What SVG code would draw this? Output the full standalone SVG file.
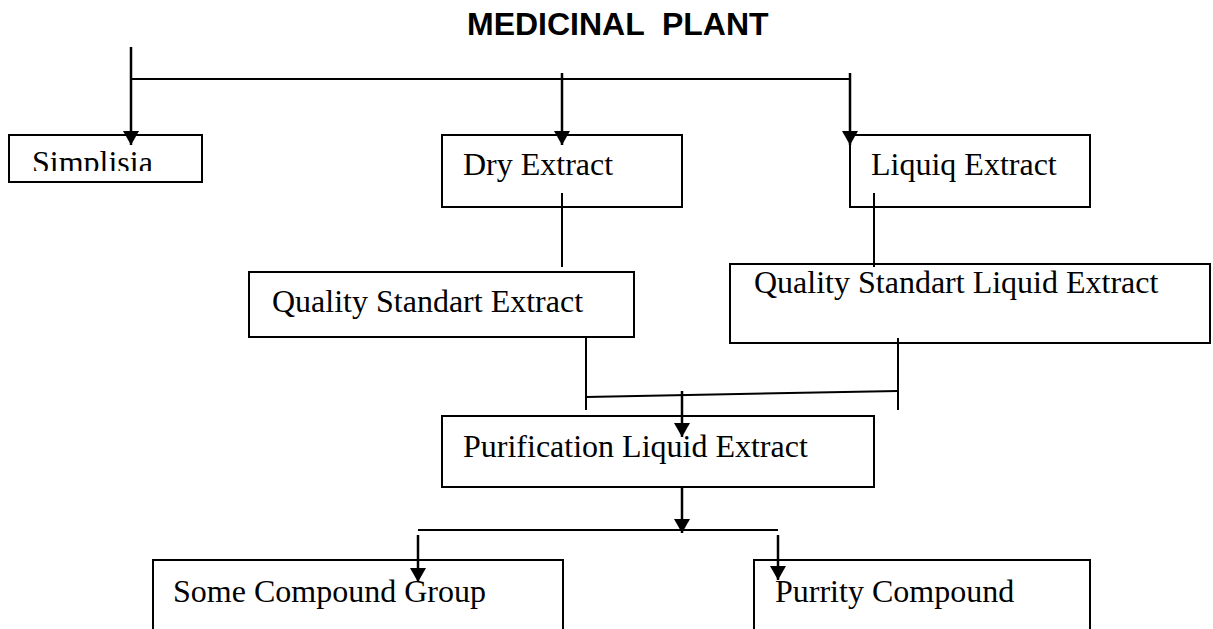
<svg xmlns="http://www.w3.org/2000/svg" width="1213" height="629" viewBox="0 0 1213 629">
<style>
.box{fill:#fff;stroke:#000;stroke-width:2}
.lbl{font-family:"Liberation Serif","Times New Roman",serif;font-size:32px;fill:#000}
.ttl{font-family:"Liberation Sans",Arial,sans-serif;font-size:32px;font-weight:bold;fill:#000}
.ln{stroke:#000;stroke-width:2;fill:none}
.ar{stroke:#000;stroke-width:2.5;fill:none;marker-end:url(#ah)}
</style>
<defs>
<marker id="ah" markerUnits="userSpaceOnUse" viewBox="0 0 14 16" refX="14" refY="8" markerWidth="14" markerHeight="16" orient="auto">
<path d="M0,0 L14,8 L0,16 z" fill="#000"/>
</marker>
<clipPath id="clipS"><rect x="10" y="136" width="191" height="35"/></clipPath>
</defs>
<rect width="1213" height="629" fill="#fff"/>
<text class="ttl" x="467" y="35" xml:space="preserve">MEDICINAL  PLANT</text>

<g id="n-simplisia"><rect class="box" x="9" y="135" width="193" height="47"/><text class="lbl" x="32" y="173" clip-path="url(#clipS)">Simplisia</text></g>
<g id="n-dry"><rect class="box" x="442" y="135" width="240" height="72"/><text class="lbl" x="463" y="175">Dry Extract</text></g>
<g id="n-liquiq"><rect class="box" x="850" y="135" width="240" height="72"/><text class="lbl" x="871" y="175">Liquiq Extract</text></g>
<g id="n-qse"><rect class="box" x="249" y="272" width="385" height="65"/><text class="lbl" x="272" y="312">Quality Standart Extract</text></g>
<g id="n-qsle"><rect class="box" x="730" y="264" width="480" height="79"/><text class="lbl" x="754" y="293">Quality Standart Liquid Extract</text></g>
<g id="n-purif"><rect class="box" x="442" y="416" width="432" height="71"/><text class="lbl" x="463" y="457">Purification Liquid Extract</text></g>
<g id="n-some"><rect class="box" x="153" y="560" width="410" height="90"/><text class="lbl" x="173" y="602">Some Compound Group</text></g>
<g id="n-purrity"><rect class="box" x="754" y="560" width="336" height="90"/><text class="lbl" x="775" y="602">Purrity Compound</text></g>

<g id="connectors">
<line class="ln" x1="131" y1="79" x2="850" y2="79"/>
<line class="ar" x1="131" y1="47" x2="131" y2="145"/>
<line class="ar" x1="562" y1="73" x2="562" y2="145"/>
<line class="ar" x1="850" y1="73" x2="850" y2="145"/>
<line class="ln" x1="562" y1="193" x2="562" y2="267"/>
<line class="ln" x1="874" y1="193" x2="874" y2="267"/>
<line class="ln" x1="586" y1="337" x2="586" y2="410"/>
<line class="ln" x1="898" y1="338" x2="898" y2="410"/>
<line class="ln" x1="586" y1="397" x2="898" y2="391"/>
<line class="ar" x1="682" y1="391" x2="682" y2="437"/>
<line class="ar" x1="682" y1="487" x2="682" y2="533"/>
<line class="ln" x1="418" y1="530" x2="778" y2="530"/>
<line class="ar" x1="418" y1="535" x2="418" y2="582"/>
<line class="ar" x1="778" y1="535" x2="778" y2="580"/>
</g>
</svg>
